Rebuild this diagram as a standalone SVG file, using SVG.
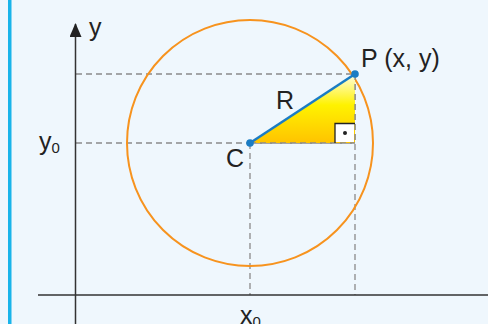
<svg xmlns="http://www.w3.org/2000/svg" width="488" height="324" viewBox="0 0 488 324">
<style>
.t{font-family:"Liberation Sans",Arial,sans-serif;fill:#222;font-size:25px}
.s{font-size:15px}
.dash{stroke:#8a8a8a;stroke-width:1.3;stroke-dasharray:6 4;fill:none}
.axis{stroke:#333;stroke-width:1.5;fill:none}
</style>
<defs>
<linearGradient id="tri" x1="0" y1="74" x2="0" y2="143" gradientUnits="userSpaceOnUse">
<stop offset="0" stop-color="#fffde3"/>
<stop offset="0.45" stop-color="#fff200"/>
<stop offset="1" stop-color="#ffc300"/>
</linearGradient>
<marker id="arr" viewBox="0 0 14 12" refX="13" refY="6" markerWidth="14" markerHeight="12" markerUnits="userSpaceOnUse" orient="auto">
<path d="M0,0 L14,6 L0,12 Z" fill="#222"/>
</marker>
</defs>
<rect width="488" height="324" fill="#eff7fd"/>
<rect x="8" y="0" width="3.5" height="324" fill="#19b4ea"/>
<g id="connectors">
<line class="dash" x1="76" y1="74" x2="355" y2="74"/>
<line class="dash" x1="76" y1="143" x2="355" y2="143"/>
<line class="dash" x1="250" y1="143" x2="250" y2="295"/>
<line class="dash" x1="355" y1="74" x2="355" y2="295"/>
</g>
<g id="axes">
<line class="axis" x1="38" y1="295" x2="488" y2="295"/>
<line class="axis" x1="75.5" y1="324" x2="75.5" y2="24" marker-end="url(#arr)"/>
<text class="t" x="89" y="36">y</text>
</g>
<g id="circle">
<circle cx="250" cy="143" r="123" fill="none" stroke="#f7931e" stroke-width="2"/>
</g>
<g id="triangle">
<path d="M250,143 L355,74 L355,143 Z" fill="url(#tri)"/>
<line class="dash" x1="250" y1="143" x2="355" y2="143"/>
<line class="dash" x1="355" y1="74" x2="355" y2="143"/>
<path d="M335,142 L335,123.5 L354,123.5 L354,142 Z" fill="#fff"/>
<path d="M335,143 L335,123.5 L355,123.5" fill="none" stroke="#222" stroke-width="1.3"/>
<circle cx="345" cy="133" r="2" fill="#222"/>
</g>
<g id="radius">
<line x1="250" y1="143" x2="355" y2="74" stroke="#1a7cc4" stroke-width="2.5"/>
<text class="t" x="276" y="109">R</text>
</g>
<g id="C">
<circle cx="250" cy="143" r="3.8" fill="#1a7cc4"/>
<text class="t" x="226" y="167">C</text>
</g>
<g id="P">
<circle cx="355" cy="74" r="3.8" fill="#1a7cc4"/>
<text class="t" x="361" y="67">P (x, y)</text>
</g>
<g id="y0">
<text class="t" x="39" y="150">y<tspan class="s" dy="3">0</tspan></text>
</g>
<g id="x0">
<text class="t" x="240" y="324">x<tspan class="s" dy="3">0</tspan></text>
</g>
</svg>
